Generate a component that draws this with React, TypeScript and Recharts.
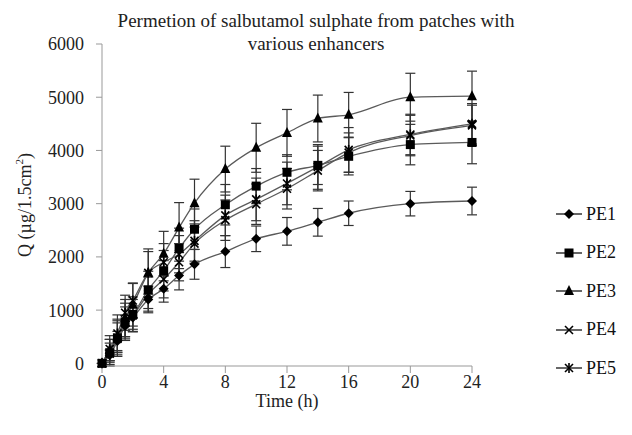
import React from 'react';
import { LineChart, Line, XAxis, YAxis, ErrorBar, Legend, Label } from 'recharts';

const times = [0, 0.5, 1, 1.5, 2, 3, 4, 5, 6, 8, 10, 12, 14, 16, 20, 24];

const pe1 = [0, 150, 420, 700, 860, 1200, 1400, 1650, 1860, 2100, 2340, 2480, 2650, 2820, 3000, 3050];
const pe2 = [0, 200, 480, 780, 920, 1380, 1740, 2160, 2520, 2980, 3330, 3590, 3720, 3890, 4110, 4150];
const pe3 = [0, 250, 500, 850, 1100, 1700, 2060, 2550, 3010, 3650, 4050, 4330, 4600, 4670, 5000, 5020];
const pe4 = [0, 180, 460, 760, 900, 1300, 1580, 1900, 2250, 2690, 2990, 3280, 3620, 3960, 4280, 4470];
const pe5 = [0, 270, 560, 950, 1180, 1700, 1900, 2050, 2300, 2780, 3080, 3380, 3690, 4010, 4300, 4500];

const pe1Err = [0, 100, 180, 200, 220, 250, 250, 270, 280, 300, 240, 260, 260, 230, 230, 260];
const pe2Err = [0, 250, 350, 350, 330, 350, 380, 380, 380, 380, 330, 330, 360, 350, 380, 400];
const pe3Err = [0, 200, 300, 350, 400, 450, 420, 470, 450, 430, 460, 440, 440, 420, 450, 470];
const pe4Err = [0, 200, 300, 300, 300, 320, 350, 350, 370, 380, 380, 380, 380, 370, 380, 380];
const pe5Err = [0, 250, 350, 330, 330, 400, 350, 350, 380, 380, 400, 400, 420, 420, 380, 380];

const seriesNames = ['PE1', 'PE2', 'PE3', 'PE4', 'PE5'];
const xTicks = [0, 4, 8, 12, 16, 20, 24];
const yTicks = [0, 1000, 2000, 3000, 4000, 5000, 6000];

const data = times.map((t, i) => ({
  t,
  PE1: pe1[i], PE1e: pe1Err[i],
  PE2: pe2[i], PE2e: pe2Err[i],
  PE3: pe3[i], PE3e: pe3Err[i],
  PE4: pe4[i], PE4e: pe4Err[i],
  PE5: pe5[i], PE5e: pe5Err[i],
}));

const FONT = "'Liberation Serif', serif";
const LINE = '#5a5a5a';

function Marker({ kind, cx, cy }: { kind: string; cx: number; cy: number }) {
  if (cx == null || cy == null) return null;
  switch (kind) {
    case 'PE1':
      return <polygon points={`${cx},${cy - 5} ${cx + 5},${cy} ${cx},${cy + 5} ${cx - 5},${cy}`} fill="#000" />;
    case 'PE2':
      return <rect x={cx - 4.5} y={cy - 4.5} width={9} height={9} fill="#000" />;
    case 'PE3':
      return <polygon points={`${cx},${cy - 6} ${cx + 5},${cy + 4} ${cx - 5},${cy + 4}`} fill="#000" />;
    case 'PE4':
      return (
        <g stroke="#000" strokeWidth={1.6}>
          <line x1={cx - 4} y1={cy - 4} x2={cx + 4} y2={cy + 4} />
          <line x1={cx - 4} y1={cy + 4} x2={cx + 4} y2={cy - 4} />
        </g>
      );
    default:
      return (
        <g stroke="#000" strokeWidth={1.6}>
          <line x1={cx - 4} y1={cy - 4} x2={cx + 4} y2={cy + 4} />
          <line x1={cx - 4} y1={cy + 4} x2={cx + 4} y2={cy - 4} />
          <line x1={cx} y1={cy - 5} x2={cx} y2={cy + 5} />
        </g>
      );
  }
}

const renderLegend = () => (
  <div style={{ fontFamily: FONT, fontSize: 18, color: '#111' }}>
    {seriesNames.map((n) => (
      <div key={n} style={{ display: 'flex', alignItems: 'center', height: 38.5 }}>
        <svg width={28} height={14}>
          <line x1={0} y1={7} x2={26} y2={7} stroke="#000" strokeWidth={1.2} />
          <Marker kind={n} cx={13} cy={7} />
        </svg>
        <span style={{ marginLeft: 2, fontFamily: FONT }}>{n}</span>
      </div>
    ))}
  </div>
);

const YLabel = (props: any) => {
  const vb = props.viewBox || {};
  const cx = 25;
  const cy = (vb.y || 44) + (vb.height || 322) / 2;
  return (
    <text
      x={cx}
      y={cy}
      transform={`rotate(-90, ${cx}, ${cy})`}
      textAnchor="middle"
      dominantBaseline="central"
      style={{ fontFamily: FONT }}
      fontSize={18}
      fill="#222"
    >
      Q (µg/1.5cm<tspan dy={-6} fontSize={11}>2</tspan>
      <tspan dy={6}>)</tspan>
    </text>
  );
};

const tickStyle = { fill: '#222', fontSize: 18, fontFamily: FONT, style: { fontFamily: FONT } };

export default function App() {
  const lines = [
    { key: 'PE1', err: 'PE1e' },
    { key: 'PE2', err: 'PE2e' },
    { key: 'PE3', err: 'PE3e' },
    { key: 'PE4', err: 'PE4e' },
    { key: 'PE5', err: 'PE5e' },
  ];
  return (
    <div style={{ position: 'absolute', left: 0, top: 0, width: 632, height: 435, background: '#fff', fontFamily: FONT }}>
      <div
        style={{
          position: 'absolute',
          left: 0,
          top: 9,
          width: 632,
          textAlign: 'center',
          fontFamily: FONT,
          fontSize: 19,
          lineHeight: '23px',
          color: '#222',
          zIndex: 2,
        }}
      >
        <div>Permetion of salbutamol sulphate from patches with</div>
        <div>various enhancers</div>
      </div>
      <LineChart
        width={632}
        height={435}
        data={data}
        margin={{ top: 44, right: 84, bottom: 39, left: 0 }}
        style={{ fontFamily: FONT }}
      >
        <XAxis
          dataKey="t"
          type="number"
          domain={[0, 24]}
          ticks={xTicks}
          height={30}
          stroke="#999"
          tickSize={7}
          tick={tickStyle}
          tickLine={{ stroke: '#999' }}
        >
          <Label value="Time (h)" position="bottom" offset={-2} style={{ fontFamily: FONT, fontSize: 18, fill: '#222' }} />
        </XAxis>
        <YAxis
          type="number"
          domain={[0, 6000]}
          ticks={yTicks}
          width={102}
          stroke="#999"
          tickSize={6}
          tickMargin={12}
          tick={tickStyle}
          tickLine={{ stroke: '#999' }}
          label={<YLabel />}
        />
        <Legend
          layout="vertical"
          align="right"
          verticalAlign="top"
          content={renderLegend}
          wrapperStyle={{ left: 556, top: 195, width: 76 }}
        />
        {lines.map((l) => (
          <Line
            key={l.key}
            type="monotone"
            dataKey={l.key}
            stroke={LINE}
            strokeWidth={1.3}
            isAnimationActive={false}
            dot={(p: any) => <Marker key={`${l.key}-${p.index}`} kind={l.key} cx={p.cx} cy={p.cy} />}
            activeDot={false}
          >
            <ErrorBar dataKey={l.err} direction="y" width={5} stroke="#333" strokeWidth={1.2} isAnimationActive={false} />
          </Line>
        ))}
      </LineChart>
    </div>
  );
}
